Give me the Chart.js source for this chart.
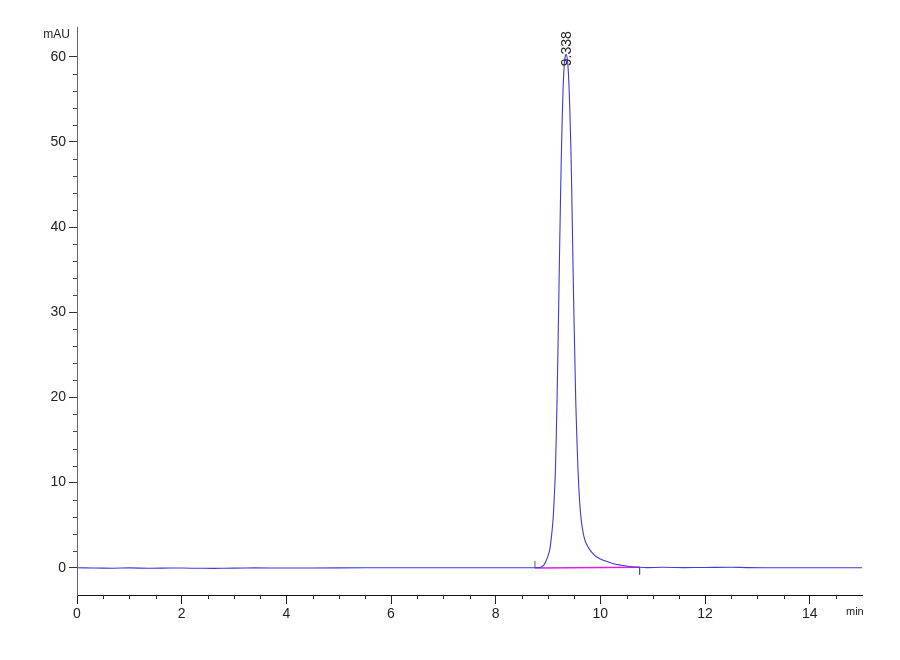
<!DOCTYPE html>
<html>
<head>
<meta charset="utf-8">
<script src="https://cdn.jsdelivr.net/npm/chart.js@4.4.1/dist/chart.umd.min.js"></script>
<style>
  html, body { margin: 0; padding: 0; background: #ffffff; }
  #wrap { width: 900px; height: 660px; position: relative; }
</style>
</head>
<body>
<div id="wrap"><canvas id="c"></canvas></div>
<script>
// ---- Data ----
const TIME_MIN = [
  0.0, 0.3, 0.7, 1.0, 1.4, 1.8, 2.2, 2.6, 3.0, 3.4, 4.0, 5.0, 6.0, 7.0, 8.0, 8.5, 8.7,
  8.75, 8.80, 8.874, 8.93, 8.97, 9.00, 9.033, 9.065, 9.096, 9.12, 9.142, 9.173, 9.205,
  9.225, 9.257, 9.287, 9.315, 9.345, 9.375, 9.402, 9.425, 9.440, 9.459, 9.485, 9.51,
  9.530, 9.55, 9.57, 9.59, 9.61, 9.635, 9.66, 9.69, 9.72, 9.76, 9.80, 9.86, 9.925, 10.03,
  10.141, 10.27, 10.403, 10.55, 10.75, 10.9, 11.2, 11.6, 12.0, 12.5, 12.8, 13.5, 14.5, 15.0
];
const SIGNAL_MAU = [
  0.0, -0.03, -0.05, -0.02, -0.06, -0.03, -0.05, -0.07, -0.04, -0.02, -0.03, -0.01, 0.0, 0.0, 0.0, 0.0, 0.0,
  0.0, 0.02, 0.1, 0.4, 0.9, 1.4, 2.1, 3.6, 5.6, 8.3, 11.5, 19.7, 31.0,
  38.5, 49.0, 56.0, 59.4, 60.3, 59.4, 56.5, 52.0, 48.5, 42.4, 33.0, 25.5,
  19.7, 15.6, 12.0, 9.3, 7.3, 5.6, 4.5, 3.6, 3.0, 2.5, 2.1, 1.65, 1.3, 0.95,
  0.7, 0.45, 0.3, 0.15, 0.05, 0.02, 0.05, 0.02, 0.03, 0.06, 0.02, 0.0, 0.0, 0.0
];
// integration baseline (peak start -> peak end)
const BASELINE_TIME = [8.75, 10.75];
const BASELINE_MAU = [-0.02, 0.06];
// peak start / end markers
const START_MARK_TIME = [8.75, 8.75];
const START_MARK_MAU = [0.0, 0.8];
const END_MARK_TIME = [10.75, 10.75];
const END_MARK_MAU = [0.06, -0.8];

const X_TICK_LABELS = ['0', '2', '4', '6', '8', '10', '12', '14'];
const Y_TICK_LABELS = ['0', '10', '20', '30', '40', '50', '60'];
const PEAK_TIME = 9.338;
const PEAK_HEIGHT = 60.3;
const PEAK_LABEL = '9.338';
const X_UNIT = 'min';
const Y_UNIT = 'mAU';

const AXIS_FONT = "'Liberation Sans Narrow', 'Liberation Sans', Arial, sans-serif";

function pts(xs, ys) { return xs.map((x, i) => ({ x: x, y: ys[i] })); }

const isMajorX = v => X_TICK_LABELS.includes(String(v));
const isMajorY = v => Y_TICK_LABELS.includes(String(v));

const decorPlugin = {
  id: 'decor',
  afterDraw(chart) {
    const ctx = chart.ctx;
    const xs = chart.scales.x, ys = chart.scales.y;
    const area = chart.chartArea;
    ctx.save();
    // minor ticks on x
    ctx.strokeStyle = '#222';
    ctx.lineWidth = 1;
    xs.ticks.forEach(t => {
      const v = t.value;
      if (!isMajorX(v) && Math.abs(v * 2 - Math.round(v * 2)) < 1e-9 && v > 0 && v < 15) {
        const px = Math.round(xs.getPixelForValue(v)) + 0.5;
        ctx.beginPath();
        ctx.moveTo(px, area.bottom);
        ctx.lineTo(px, area.bottom + 4);
        ctx.stroke();
      }
    });
    // minor ticks on y
    ctx.strokeStyle = '#444';
    ys.ticks.forEach(t => {
      const v = t.value;
      if (!isMajorY(v) && Number.isInteger(v)) {
        const py = Math.round(ys.getPixelForValue(v)) + 0.5;
        ctx.beginPath();
        ctx.moveTo(area.left - 4, py);
        ctx.lineTo(area.left, py);
        ctx.stroke();
      }
    });
    // unit labels
    ctx.fillStyle = '#222';
    ctx.font = "12px " + AXIS_FONT;
    ctx.textAlign = 'right';
    ctx.textBaseline = 'middle';
    ctx.fillText(Y_UNIT, area.left - 7, 35);
    ctx.textAlign = 'left';
    ctx.font = "11px " + AXIS_FONT;
    ctx.fillText(X_UNIT, area.right - 16, 612);
    // peak label (rotated)
    const px = xs.getPixelForValue(PEAK_TIME);
    const py = ys.getPixelForValue(PEAK_HEIGHT);
    ctx.translate(px + 1, py + 12);
    ctx.rotate(-Math.PI / 2);
    ctx.font = "14px 'Liberation Sans', Arial, sans-serif";
    ctx.textAlign = 'left';
    ctx.textBaseline = 'middle';
    ctx.fillStyle = '#222';
    ctx.fillText(PEAK_LABEL, 0, 0);
    ctx.restore();
  }
};

new Chart(document.getElementById('c'), {
  type: 'scatter',
  data: {
    datasets: [
      {
        label: 'baseline',
        data: pts(BASELINE_TIME, BASELINE_MAU),
        showLine: true, borderColor: '#e020e0', borderWidth: 1.5,
        pointRadius: 0, fill: false, order: 2
      },
      {
        label: 'start',
        data: pts(START_MARK_TIME, START_MARK_MAU),
        showLine: true, borderColor: '#555', borderWidth: 1,
        pointRadius: 0, fill: false, order: 3
      },
      {
        label: 'end',
        data: pts(END_MARK_TIME, END_MARK_MAU),
        showLine: true, borderColor: '#555', borderWidth: 1,
        pointRadius: 0, fill: false, order: 3
      },
      {
        label: 'signal',
        data: pts(TIME_MIN, SIGNAL_MAU),
        showLine: true, borderColor: 'rgb(60,60,215)', borderWidth: 1.1,
        pointRadius: 0, fill: false, tension: 0.3, order: 1
      }
    ]
  },
  options: {
    responsive: true,
    maintainAspectRatio: false,
    animation: false,
    devicePixelRatio: 1,
    layout: { padding: { top: 27, right: 38, bottom: 0, left: 0 } },
    plugins: { legend: { display: false }, tooltip: { enabled: false } },
    scales: {
      x: {
        type: 'linear', min: 0, max: 15,
        afterFit: s => { s.height = 65; },
        border: { display: true, color: '#111', width: 1 },
        grid: {
          display: true, drawOnChartArea: false, drawTicks: true, tickLength: 9,
          tickColor: c => (c.tick && isMajorX(c.tick.value)) ? '#222' : 'rgba(0,0,0,0)'
        },
        ticks: {
          stepSize: 0.5, autoSkip: false, maxRotation: 0, minRotation: 0, padding: 2,
          color: '#222', font: { family: AXIS_FONT, size: 14 },
          callback: v => isMajorX(v) ? String(v) : ''
        }
      },
      y: {
        type: 'linear', min: -3.2, max: 63.5,
        afterFit: s => { s.width = 77; },
        border: { display: true, color: '#666', width: 1 },
        grid: {
          display: true, drawOnChartArea: false, drawTicks: true, tickLength: 8,
          tickColor: c => (c.tick && isMajorY(c.tick.value)) ? '#333' : 'rgba(0,0,0,0)'
        },
        ticks: {
          stepSize: 2, autoSkip: false, maxTicksLimit: 100, padding: 3,
          color: '#222', font: { family: AXIS_FONT, size: 14 },
          callback: v => isMajorY(v) ? String(v) : ''
        }
      }
    }
  },
  plugins: [decorPlugin]
});
</script>
</body>
</html>
